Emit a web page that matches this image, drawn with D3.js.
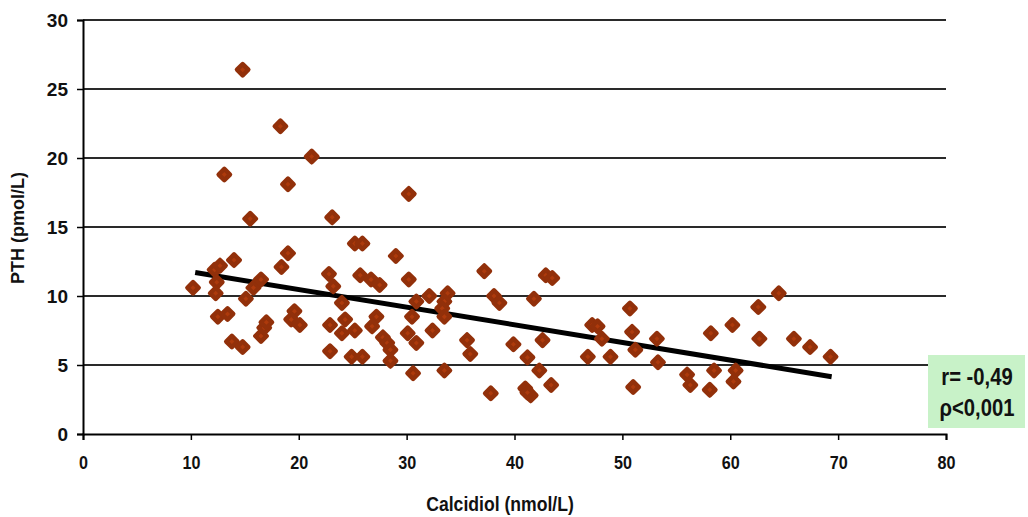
<!DOCTYPE html>
<html><head><meta charset="utf-8">
<script src="https://cdn.jsdelivr.net/npm/d3@7"></script>
<style>
body{margin:0;background:#fff;}
text{font-family:"Liberation Sans",Arial,sans-serif;font-weight:bold;}
</style></head>
<body><svg id="c" width="1028" height="517"></svg>
<script>
const calcidiol = [10.2,12.2,12.7,12.4,12.3,14.0,12.5,13.4,13.8,14.8,14.8,13.1,15.5,15.1,15.8,16.5,16.5,16.8,17.0,18.3,19.0,18.4,19.0,19.6,19.3,20.1,21.2,22.8,23.1,23.2,24.0,22.9,24.3,24.0,25.2,22.9,24.9,25.9,25.2,25.9,25.7,26.7,27.5,29.0,27.2,26.8,27.8,28.2,28.5,28.5,30.2,30.2,30.9,32.1,30.5,30.1,30.9,30.6,33.8,33.5,33.3,33.5,32.4,33.5,35.6,35.9,37.2,38.1,38.6,37.8,39.9,41.8,42.6,41.2,42.3,41.0,41.5,41.2,42.9,43.5,43.4,47.2,47.7,48.1,46.8,48.9,50.7,50.9,51.2,51.0,53.2,53.3,58.2,58.5,56.0,56.3,58.1,60.2,60.5,60.3,62.6,62.7,64.5,65.9,67.4,69.3];
const pth = [10.6,11.9,12.2,11.0,10.2,12.6,8.5,8.7,6.7,6.3,26.4,18.8,15.6,9.8,10.6,11.2,7.1,7.7,8.1,22.3,18.1,12.1,13.1,8.9,8.3,7.9,20.1,11.6,15.7,10.7,9.5,7.9,8.3,7.3,7.5,6.0,5.6,5.6,13.8,13.8,11.5,11.2,10.8,12.9,8.5,7.8,7.0,6.6,6.1,5.3,17.4,11.2,9.6,10.0,8.5,7.3,6.6,4.4,10.2,9.6,9.1,8.5,7.5,4.6,6.8,5.8,11.8,10.0,9.5,2.95,6.5,9.8,6.8,5.55,4.6,3.3,2.8,3.0,11.5,11.3,3.55,7.9,7.8,6.9,5.6,5.6,9.1,7.4,6.1,3.4,6.9,5.2,7.3,4.6,4.3,3.55,3.2,7.9,4.6,3.8,9.2,6.9,10.2,6.9,6.3,5.6];
const trendX = [10.4, 69.4];
const trendY = [11.7, 4.15];
const xTicks = [0,10,20,30,40,50,60,70,80];
const yTicks = [0,5,10,15,20,25,30];
const xTitle = "Calcidiol (nmol/L)";
const yTitle = "PTH (pmol/L)";
const statLines = ["r= -0,49", "ρ<0,001"];

const svg = d3.select("#c");
const x = d3.scaleLinear().domain([0,80]).range([83,946]);
const y = d3.scaleLinear().domain([0,30]).range([434,20]);

// gridlines
svg.append("g").selectAll("line").data(yTicks.filter(d=>d>0)).join("line")
  .attr("x1", x(0)).attr("x2", x(80)).attr("y1", d=>y(d)).attr("y2", d=>y(d))
  .attr("stroke", "#2a2a2a").attr("stroke-width", 2.2);

// axes
const yAxis = svg.append("g").attr("transform", `translate(${x(0)},0)`)
  .call(d3.axisLeft(y).tickValues(yTicks).tickSize(6).tickPadding(9).tickFormat(d3.format("d")));
const xAxis = svg.append("g").attr("transform", `translate(0,${y(0)})`)
  .call(d3.axisBottom(x).tickValues(xTicks).tickSize(6).tickPadding(16).tickFormat(d3.format("d")));
[yAxis, xAxis].forEach(a=>{
  a.select(".domain").attr("stroke","#000").attr("stroke-width",2);
  a.selectAll(".tick line").attr("stroke","#000").attr("stroke-width",1.5);
  a.selectAll(".tick text").attr("fill","#111").style("font-family","'Liberation Sans',Arial,sans-serif").style("font-size","19px");
});
xAxis.selectAll(".tick text").attr("transform","scale(0.85,1)");

// trend line
svg.append("line")
  .attr("x1", x(trendX[0])).attr("y1", y(trendY[0]))
  .attr("x2", x(trendX[1])).attr("y2", y(trendY[1]))
  .attr("stroke", "#000").attr("stroke-width", 5);

// points
const sym = d3.symbol().type(d3.symbolSquare).size(64);
svg.append("g").selectAll("path").data(calcidiol.map((c,i)=>[c,pth[i]])).join("path")
  .attr("d", sym)
  .attr("transform", d=>`translate(${x(d[0])},${y(d[1])}) rotate(45)`)
  .attr("fill", "#ad3a0c").attr("stroke", "#92300a").attr("stroke-width", 4.5)
  .attr("stroke-linejoin", "round");

// titles
svg.append("text").attr("transform","translate(500,511) scale(0.88,1)").attr("text-anchor","middle")
  .style("font-size","20px").attr("fill","#111").text(xTitle);
svg.append("text").attr("transform","translate(24,228) rotate(-90)").attr("text-anchor","middle")
  .style("font-size","18px").attr("fill","#111").text(yTitle);

// stats box
svg.append("rect").attr("x",928).attr("y",355).attr("width",97).attr("height",73).attr("fill","#c8f2c8");
svg.append("g").selectAll("text").data(statLines).join("text")
  .attr("transform",(d,i)=>`translate(977,${385+i*31}) scale(0.88,1)`).attr("text-anchor","middle")
  .style("font-size","23px").attr("fill","#111").text(d=>d);
</script></body></html>
